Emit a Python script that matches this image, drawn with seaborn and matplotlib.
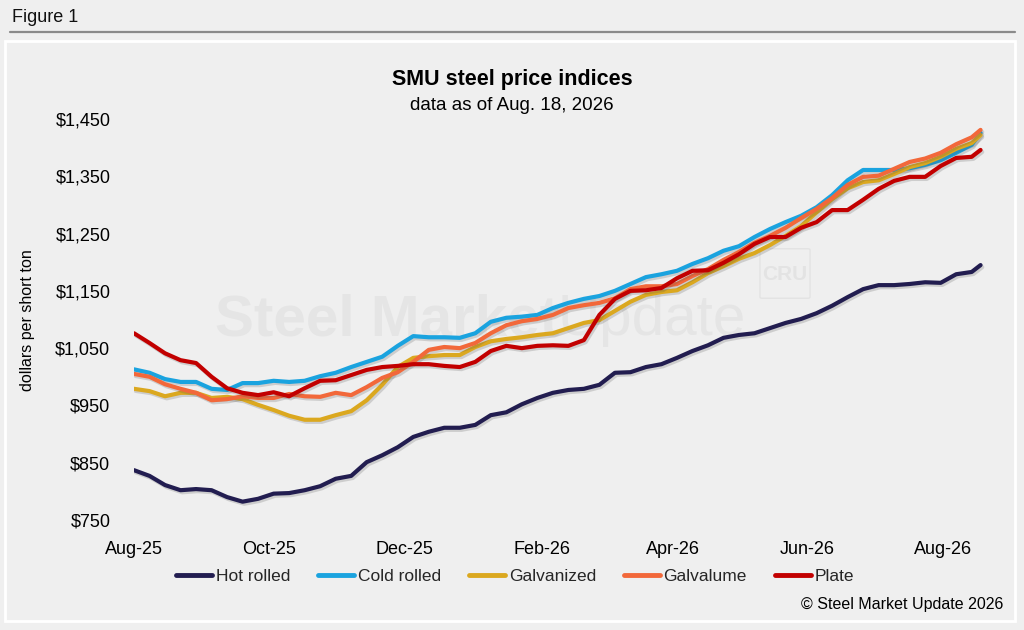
import pandas as pd
import seaborn as sns
import matplotlib.pyplot as plt
import matplotlib.dates as mdates
import matplotlib.patheffects as pe
from matplotlib.patches import Rectangle, FancyBboxPatch
from matplotlib.lines import Line2D

# Weekly SMU index readings, Aug 2025 - Aug 18 2026 ($ per short ton)
dates = list(pd.date_range('2025-08-01', periods=55, freq='7D')) + [pd.Timestamp('2026-08-18')]

hot_rolled = [837, 827, 811, 802, 804, 802, 790, 782, 787, 796, 797, 802, 809, 822,
              827, 851, 863, 877, 895, 904, 911, 911, 916, 933, 938, 952, 963, 972,
              977, 979, 986, 1007, 1008, 1017, 1022, 1033, 1045, 1055, 1068, 1073, 1076, 1085,
              1094, 1101, 1111, 1124, 1139, 1153, 1160, 1160, 1162, 1165, 1164, 1179, 1183, 1195]
cold_rolled = [1013, 1007, 996, 991, 991, 979, 977, 989, 989, 993, 991, 993, 1001, 1007,
               1017, 1026, 1035, 1054, 1071, 1069, 1069, 1068, 1076, 1096, 1103, 1105, 1108, 1120,
               1129, 1136, 1141, 1150, 1162, 1174, 1179, 1185, 1197, 1207, 1220, 1228, 1244, 1258,
               1270, 1281, 1296, 1317, 1343, 1361, 1361, 1361, 1364, 1370, 1378, 1391, 1405, 1426]
galvanized = [979, 975, 966, 972, 972, 963, 965, 961, 951, 942, 932, 925, 925, 933,
              940, 959, 986, 1017, 1033, 1036, 1038, 1038, 1052, 1062, 1066, 1069, 1073, 1076,
              1085, 1094, 1099, 1115, 1131, 1143, 1148, 1151, 1165, 1181, 1193, 1206, 1216, 1230,
              1246, 1263, 1287, 1310, 1329, 1340, 1343, 1354, 1366, 1373, 1384, 1398, 1408, 1422]
galvalume = [1005, 1000, 987, 979, 972, 959, 961, 966, 963, 963, 970, 966, 965, 972,
             968, 982, 998, 1008, 1026, 1047, 1052, 1050, 1059, 1076, 1090, 1097, 1101, 1108,
             1120, 1125, 1129, 1137, 1153, 1158, 1158, 1162, 1176, 1188, 1204, 1218, 1234, 1246,
             1260, 1277, 1293, 1312, 1335, 1349, 1351, 1363, 1375, 1381, 1391, 1406, 1418, 1431]
plate = [1076, 1059, 1041, 1029, 1024, 1000, 980, 972, 968, 973, 966, 980, 993, 994,
         1003, 1012, 1017, 1019, 1022, 1022, 1019, 1017, 1026, 1045, 1054, 1050, 1054, 1055,
         1054, 1064, 1108, 1136, 1150, 1151, 1155, 1172, 1185, 1186, 1199, 1214, 1232, 1244,
         1244, 1260, 1270, 1291, 1291, 1309, 1328, 1342, 1349, 1349, 1368, 1382, 1384, 1396]

products = ['Hot rolled', 'Cold rolled', 'Galvanized', 'Galvalume', 'Plate']
colors = ['#221d50', '#1aa3df', '#dba81f', '#f2683a', '#c20000']
y_ticks = [750, 850, 950, 1050, 1150, 1250, 1350, 1450]

frames = []
for name, vals in zip(products, [hot_rolled, cold_rolled, galvanized, galvalume, plate]):
    frames.append(pd.DataFrame({'date': dates, 'price': vals, 'product': name}))
df = pd.concat(frames, ignore_index=True)

sns.set_theme(style='white')
plt.rcParams['font.family'] = ['Liberation Sans', 'DejaVu Sans']

bg = '#efefef'
fig = plt.figure(figsize=(10.24, 6.30), dpi=100)
fig.patch.set_facecolor(bg)

# header and panel frame (kept behind the axes)
fig.text(12 / 1024, 1 - 18 / 630, 'Figure 1', fontsize=13, va='center', ha='left', color='#111111')
fig.add_artist(Line2D([10 / 1024, 1015 / 1024], [1 - 32 / 630, 1 - 32 / 630],
                      color='#8a8a8a', lw=1.6, transform=fig.transFigure))
fig.add_artist(Rectangle((5 / 1024, 1 - 621 / 630), 1010 / 1024, 580 / 630, transform=fig.transFigure,
                         facecolor=bg, edgecolor='white', lw=2, zorder=-3))

# faint watermark
fig.text(387 / 1024, 1 - 320 / 630, 'Steel Market', fontsize=42, fontweight='bold',
         color='#e5e5e5', ha='center', va='center', zorder=-2)
fig.text(558 / 1024, 1 - 320 / 630, 'Update', fontsize=42, color='#e5e5e5',
         ha='left', va='center', zorder=-2)
fig.add_artist(FancyBboxPatch((762 / 1024, 1 - 297 / 630), 46 / 1024, 47 / 630,
                              boxstyle='round,pad=0.002', transform=fig.transFigure,
                              facecolor='none', edgecolor='#e3e3e3', lw=1, zorder=-2))
fig.text(785 / 1024, 1 - 274 / 630, 'CRU', fontsize=15, fontweight='bold', color='#e3e3e3',
         ha='center', va='center', zorder=-2)

fig.text(0.5, 1 - 80 / 630, 'SMU steel price indices', fontsize=15.5, fontweight='bold',
         ha='center', va='center', color='black')
fig.text(0.5, 1 - 106 / 630, 'data as of Aug. 18, 2026', fontsize=13.5,
         ha='center', va='center', color='black')

ax = fig.add_axes([134 / 1024, 1 - 520 / 630, 851 / 1024, 401 / 630])
ax.set_facecolor('none')
ax.set_zorder(1)

shadow = [pe.SimpleLineShadow(offset=(1.2, -1.5), alpha=0.22, shadow_color='#555555'), pe.Normal()]
sns.lineplot(data=df, x='date', y='price', hue='product', hue_order=products,
             palette=colors, linewidth=3, ax=ax, legend=False)
for line in ax.get_lines():
    line.set_path_effects(shadow)
    line.set_solid_capstyle('round')
    line.set_solid_joinstyle('round')

ax.set_xlim(pd.Timestamp('2025-08-01'), pd.Timestamp('2026-08-20'))
ax.set_ylim(750, 1450)
ax.set_yticks(y_ticks)
ax.set_yticklabels([f'${v:,}' for v in y_ticks])
ax.xaxis.set_major_locator(mdates.MonthLocator(bymonth=[2, 4, 6, 8, 10, 12]))
ax.xaxis.set_major_formatter(mdates.DateFormatter('%b-%y'))
ax.tick_params(axis='y', length=0, pad=17, labelsize=13, colors='black')
ax.tick_params(axis='x', length=0, pad=15, labelsize=13, colors='black')
for s in ax.spines.values():
    s.set_visible(False)
ax.grid(False)
ax.set_xlabel('')
ax.set_ylabel('')
fig.text(28 / 1024, 1 - 320 / 630, 'dollars per short ton', rotation=90, fontsize=11.5,
         ha='center', va='center', color='black')

handles = [Line2D([], [], color=c, lw=3.5) for c in colors]
fig.legend(handles, products, loc='center', bbox_to_anchor=(515 / 1024, 1 - 576 / 630), ncol=5,
           frameon=False, fontsize=12.5, handlelength=2.1, handletextpad=0.2, columnspacing=1.6)

fig.text(1003 / 1024, 1 - 605 / 630, '\u00a9 Steel Market Update 2026', fontsize=11.5,
         ha='right', va='center', color='black')

fig.savefig('out.png', dpi=100, facecolor=bg)
